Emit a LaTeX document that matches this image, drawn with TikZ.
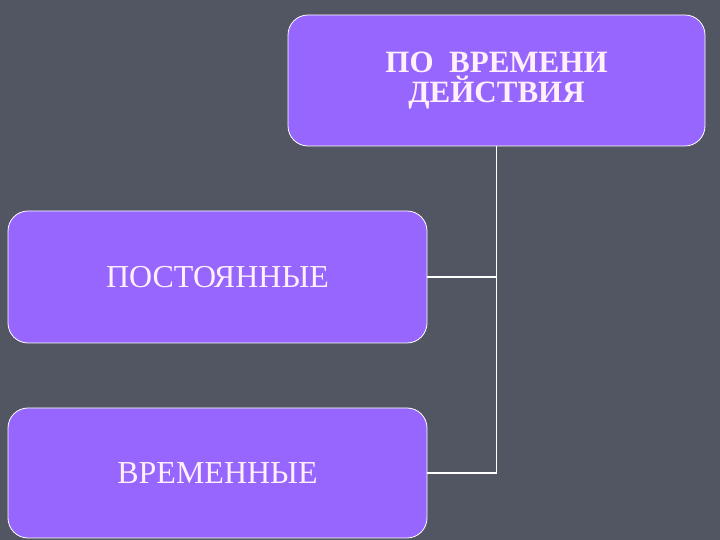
\documentclass[tikz,border=0pt]{standalone}
\usepackage{fontspec}
\setmainfont{Liberation Serif}
\usetikzlibrary{positioning}
\definecolor{slate}{RGB}{82,86,98}
\definecolor{violet}{RGB}{150,102,255}
\definecolor{pinkwhite}{RGB}{255,240,250}

\begin{document}
\begin{tikzpicture}[x=1pt, y=1pt,
    kind/.style= {
        draw=white, fill=violet, rounded corners=20pt,
        line width=0.8pt, text=pinkwhite, align=center,
        inner sep=0pt },
    link/.style= { draw=white, line width=1.6pt } ]
    \fill[slate] (0,0) rectangle (720,540);
    \useasboundingbox (0,0) rectangle (720,540);
    \node[kind, minimum width=417pt, minimum height=131pt,
          font=\fontsize{31}{30}\selectfont\bfseries] (by time) at (496.5,459.5)
          {ПО\ \ ВРЕМЕНИ\\ДЕЙСТВИЯ};
    \node[kind, minimum width=419pt, minimum height=132pt,
          font=\fontsize{32}{36}\selectfont] (constant) at (217.5,263) {ПОСТОЯННЫЕ};
    \node[kind, minimum width=419pt, minimum height=130pt,
          font=\fontsize{32}{36}\selectfont] (temporary) at (217.5,67) {ВРЕМЕННЫЕ};
    \draw[link] (by time.south) |- (temporary.east);
    \draw[link] (by time.south) |- (constant.east);
\end{tikzpicture}
\end{document}
